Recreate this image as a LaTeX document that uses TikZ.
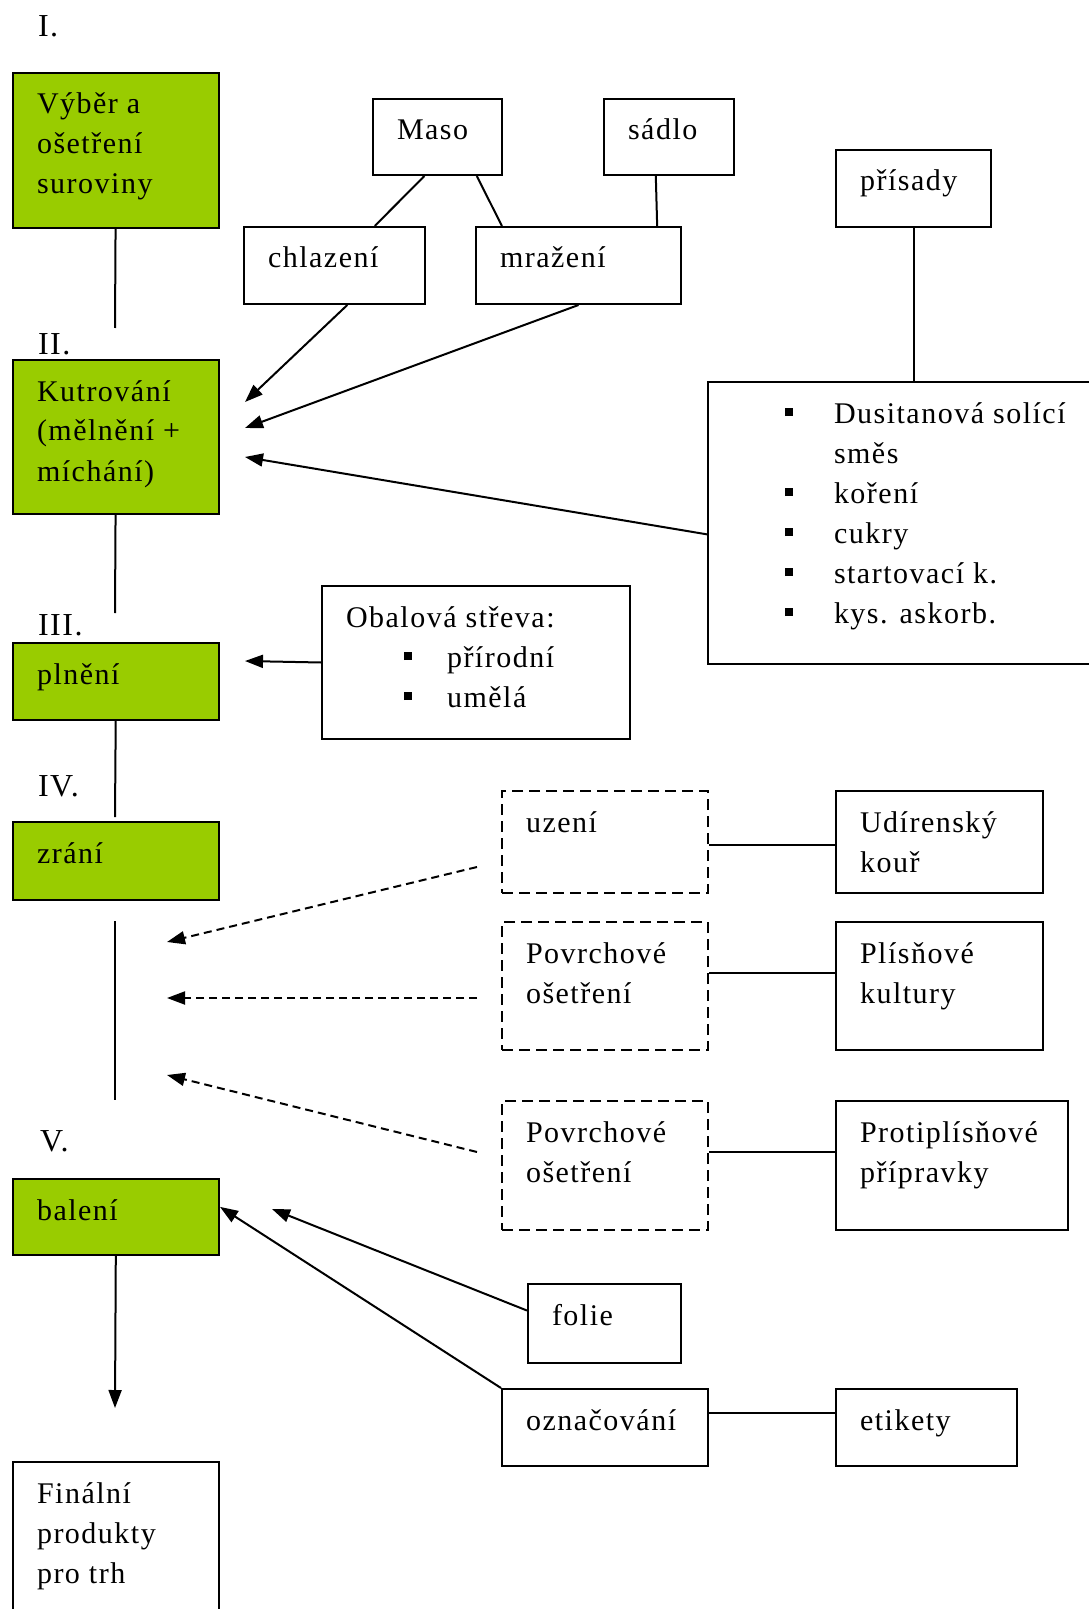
\documentclass[tikz,border=0pt]{standalone}
\usepackage{fontspec}
\setmainfont{Liberation Serif}[LetterSpace=5]
\usepackage{tikz}
\usetikzlibrary{arrows.meta,calc}

\definecolor{leaf}{HTML}{99CC00}
\newlength{\pxu}\setlength{\pxu}{0.5pt}
\newcommand{\boxtxt}[3]{\parbox[t][#2\pxu][t]{#1\pxu}{\fontsize{15pt}{20pt}\selectfont\raggedright\leftskip=24\pxu\rule{0pt}{41\pxu}#3}}
\newcommand{\bul}[1]{\makebox[#1\pxu][l]{\raisebox{7\pxu}{\rule{8\pxu}{8\pxu}}}}

\begin{document}
\begin{tikzpicture}[x=0.5pt,y=-0.5pt,line width=1pt,
	>={Triangle[length=9pt,width=6.5pt]},
	stage/.style={draw,fill=leaf,anchor=north west,inner sep=0pt},
	item/.style={draw,anchor=north west,inner sep=0pt},
	opt/.style={item,dash pattern=on 5.5pt off 3pt},
	num/.style={anchor=base west,inner sep=0pt,font=\fontsize{16pt}{20pt}\selectfont}]
	\useasboundingbox (0,0) rectangle (1088,1609);

	% stages
	\node[num] (I) at (37,37) {I.};
	\node[num] (II) at (37,355) {II.};
	\node[num] (III) at (37,635) {III.};
	\node[num] (IV) at (37,796) {IV.};
	\node[num] (V) at (39,1151) {V.};

	\node[stage] (vyber) at (12,72) {\boxtxt{206}{155}{Výběr a\\ošetření\\suroviny}};
	\node[stage] (kutr) at (12,359) {\boxtxt{206}{154}{Kutrování\\(mělnění +\\míchání)}};
	\node[stage] (plneni) at (12,642) {\boxtxt{206}{77}{plnění}};
	\node[stage] (zrani) at (12,821) {\boxtxt{206}{78}{zrání}};
	\node[stage] (baleni) at (12,1178) {\boxtxt{206}{76}{balení}};
	\node[item] (final) at (12,1461) {\boxtxt{206}{160}{Finální\\produkty\\pro trh}};

	% raw material
	\node[item] (maso) at (372,98) {\boxtxt{129}{76}{Maso}};
	\node[item] (sadlo) at (603,98) {\boxtxt{130}{76}{sádlo}};
	\node[item] (chlaz) at (243,226) {\boxtxt{181}{77}{chlazení}};
	\node[item] (mraz) at (475,226) {\boxtxt{205}{77}{mražení}};
	\node[item] (prisady) at (835,149) {\boxtxt{155}{77}{přísady}};
	\node[item] (dusit) at (707,381) {\boxtxt{393}{282}{\hspace*{53\pxu}\bul{49}Dusitanová solící\\
		\hspace*{102\pxu}směs\\
		\hspace*{53\pxu}\bul{49}koření\\
		\hspace*{53\pxu}\bul{49}cukry\\
		\hspace*{53\pxu}\bul{49}startovací k.\\
		\hspace*{53\pxu}\bul{49}kys. askorb.}};
	\node[item] (obal) at (321,585) {\boxtxt{308}{153}{Obalová střeva:\\
		\hspace*{58\pxu}\bul{43}přírodní\\
		\hspace*{58\pxu}\bul{43}umělá}};

	% ripening
	\node[opt] (uzeni) at (501,790) {\boxtxt{206}{102}{uzení}};
	\node[opt] (povrch1) at (501,921) {\boxtxt{206}{128}{Povrchové\\ošetření}};
	\node[opt] (povrch2) at (501,1100) {\boxtxt{206}{129}{Povrchové\\ošetření}};
	\node[item] (udir) at (835,790) {\boxtxt{207}{102}{Udírenský\\kouř}};
	\node[item] (plisn) at (835,921) {\boxtxt{207}{128}{Plísňové\\kultury}};
	\node[item] (protipl) at (835,1100) {\boxtxt{232}{129}{Protiplísňové\\přípravky}};

	% packing
	\node[item] (folie) at (527,1283) {\boxtxt{153}{79}{folie}};
	\node[item] (oznac) at (501,1388) {\boxtxt{206}{77}{označování}};
	\node[item] (etik) at (835,1388) {\boxtxt{181}{77}{etikety}};

	\coordinate (c1) at (115,328);
	\coordinate (c2) at (115,613);
	\coordinate (c3) at (115,817);
	\coordinate (c4) at (115,921);
	\coordinate (c5) at (115,1100);
	\coordinate (c6) at (115,1408);
	\coordinate (t1) at (245,402);
	\coordinate (t2) at (245,428);
	\coordinate (t3) at (245,457);
	\coordinate (t4) at (245,661);
	\coordinate (t5) at (272,1209);
	\coordinate (d1) at (477,867);
	\coordinate (d2) at (477,998);
	\coordinate (d3) at (477,1152);
	\coordinate (e1) at (167,942);
	\coordinate (e2) at (167,998);
	\coordinate (e3) at (167,1075);

	\draw
		(vyber) edge (c1)
		(kutr) edge (c2)
		(plneni) edge (c3)
		(c4) edge (c5)
		(baleni) edge[->] (c6)
		($(maso.south west)!.4!(maso.south east)$) edge ($(chlaz.north west)!.72!(chlaz.north east)$)
		($(maso.south west)!.8!(maso.south east)$) edge ($(mraz.north west)!.13!(mraz.north east)$)
		($(sadlo.south west)!.4!(sadlo.south east)$) edge ($(mraz.north west)!.88!(mraz.north east)$)
		(prisady.south) edge (prisady.south |- dusit.north)
		($(chlaz.south west)!.57!(chlaz.south east)$) edge[->] (t1)
		(mraz.south) edge[->] (t2)
		($(dusit.north west)!.54!(dusit.south west)$) edge[->] (t3)
		(obal.west) edge[->] (t4)
		($(uzeni.north east)!.53!(uzeni.south east)$) edge ($(udir.north west)!.53!(udir.south west)$)
		($(povrch1.north east)!.4!(povrch1.south east)$) edge ($(plisn.north west)!.4!(plisn.south west)$)
		($(povrch2.north east)!.4!(povrch2.south east)$) edge ($(protipl.north west)!.4!(protipl.south west)$)
		($(oznac.north east)!.32!(oznac.south east)$) edge ($(etik.north west)!.32!(etik.south west)$)
		($(folie.north west)!.34!(folie.south west)$) edge[->] (t5)
		(oznac.north west) edge[->] ($(baleni.north east)!.37!(baleni.south east)$)
	;
	\draw[dash pattern=on 4pt off 2.5pt]
		(d1) edge[->] (e1)
		(d2) edge[->] (e2)
		(d3) edge[->] (e3)
	;
\end{tikzpicture}
\end{document}
